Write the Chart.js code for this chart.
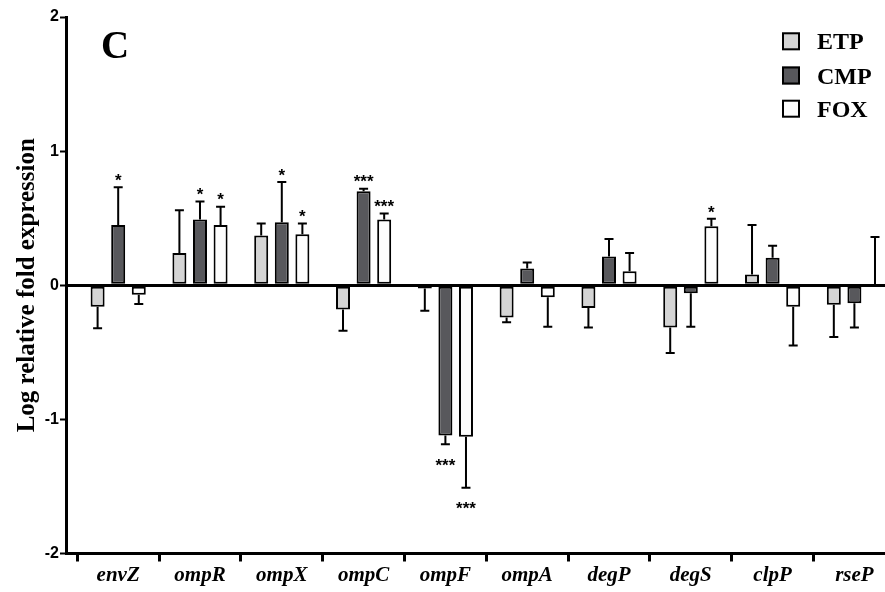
<!DOCTYPE html>
<html>
<head>
<meta charset="utf-8">
<script src="https://cdn.jsdelivr.net/npm/chart.js@4"></script>
<style>
html,body{margin:0;padding:0;background:#fff;overflow:hidden;}
canvas{display:block;}
</style>
</head>
<body>
<canvas id="c" width="885" height="592"></canvas>
<script>
const genes = ['envZ','ompR','ompX','ompC','ompF','ompA','degP','degS','clpP','rseP'];
const seriesNames = ['ETP','CMP','FOX'];
const etpValues = [-0.16, 0.24, 0.37, -0.18, -0.025, -0.24, -0.17, -0.315, 0.08, -0.145];
const cmpValues = [0.45, 0.49, 0.47, 0.70, -1.12, 0.125, 0.215, -0.06, 0.205, -0.135];
const foxValues = [-0.07, 0.45, 0.38, 0.49, -1.13, -0.09, 0.105, 0.44, -0.16, 0.0];
const etpErrors = [0.16, 0.32, 0.09, 0.16, 0.165, 0.035, 0.145, 0.19, 0.37, 0.24];
const cmpErrors = [0.28, 0.135, 0.30, 0.02, 0.065, 0.045, 0.13, 0.25, 0.09, 0.18];
const foxErrors = [0.07, 0.135, 0.08, 0.045, 0.38, 0.22, 0.135, 0.055, 0.29, 0.36];
const etpSig = ['','','','','','','','','',''];
const cmpSig = ['*','*','*','***','***','','','','',''];
const foxSig = ['','*','*','***','***','','','*','',''];
const yTicks = [-2, -1, 0, 1, 2];
const yTitle = 'Log relative fold expression';
const panelLabel = 'C';

const colors = ['#d4d4d4', '#58585c', '#fdfdfd'];
const allValues = [etpValues, cmpValues, foxValues];
const allErrors = [etpErrors, cmpErrors, foxErrors];
const allSig = [etpSig, cmpSig, foxSig];

const datasets = seriesNames.map((name, s) => ({
  label: name,
  data: allValues[s].map((v, i) => ({x: i, y: v})),
  backgroundColor: colors[s],
  borderColor: '#000',
  borderWidth: 2,
  borderSkipped: false,
  categoryPercentage: 1.51,
  barPercentage: 0.68
}));

const errorBarPlugin = {
  id: 'errorBars',
  afterDatasetsDraw(chart) {
    const ctx = chart.ctx;
    const yScale = chart.scales.y;
    ctx.save();
    ctx.strokeStyle = '#000';
    ctx.lineWidth = 2;
    ctx.fillStyle = '#000';
    allValues.forEach((vals, s) => {
      const meta = chart.getDatasetMeta(s);
      vals.forEach((v, i) => {
        const bar = meta.data[i];
        const dir = v >= 0 ? 1 : -1;
        const yEnd = yScale.getPixelForValue(v + dir * allErrors[s][i]);
        const yStart = yScale.getPixelForValue(v);
        ctx.beginPath();
        ctx.moveTo(bar.x, yStart);
        ctx.lineTo(bar.x, yEnd);
        ctx.moveTo(bar.x - 4.5, yEnd);
        ctx.lineTo(bar.x + 4.5, yEnd);
        ctx.stroke();
        const sig = allSig[s][i];
        if (sig) {
          ctx.font = 'bold 17px "Liberation Sans"';
          ctx.textAlign = 'center';
          ctx.textBaseline = 'alphabetic';
          const cy = dir > 0 ? yEnd - 11 : yEnd + 17;
          ctx.fillText(sig, bar.x, cy + 9.7);
        }
      });
    });
    ctx.restore();
  }
};

const legendPlugin = {
  id: 'customLegend',
  afterDraw(chart) {
    const ctx = chart.ctx;
    ctx.save();
    const rows = [41.3, 75.5, 108.7];
    chart.data.datasets.forEach((ds, s) => {
      const cy = rows[s];
      ctx.fillStyle = ds.backgroundColor;
      ctx.fillRect(782, cy - 9, 18, 18);
      ctx.strokeStyle = '#000';
      ctx.lineWidth = 2;
      ctx.strokeRect(783, cy - 8, 16, 16);
      ctx.fillStyle = '#000';
      ctx.font = 'bold 24px "Liberation Serif"';
      ctx.textAlign = 'left';
      ctx.textBaseline = 'alphabetic';
      ctx.fillText(ds.label, 817, cy + 8);
    });
    ctx.font = 'bold 39px "Liberation Serif"';
    ctx.fillText(panelLabel, 101, 58);
    ctx.restore();
  }
};

new Chart(document.getElementById('c'), {
  type: 'bar',
  data: { datasets },
  options: {
    responsive: false,
    animation: false,
    devicePixelRatio: 1,
    layout: { padding: { top: 17, right: 0, bottom: 0, left: 0 } },
    plugins: { legend: { display: false }, tooltip: { enabled: false } },
    scales: {
      x: {
        type: 'linear',
        offset: false,
        min: -0.638,
        max: 9.374,
        afterFit(scale) { scale.height = 38.5; },
        afterBuildTicks(scale) {
          const t = [];
          for (let i = 0; i < genes.length; i++) {
            t.push({value: i - 0.5});
            t.push({value: i});
          }
          scale.ticks = t;
        },
        border: { color: '#000', width: 3 },
        grid: {
          offset: false,
          drawOnChartArea: false,
          tickLength: 8,
          tickWidth: 3,
          tickColor: (c) => (c.tick && Number.isInteger(c.tick.value)) ? 'rgba(0,0,0,0)' : '#000'
        },
        ticks: {
          autoSkip: false,
          maxRotation: 0,
          padding: 1,
          color: '#000',
          font: { family: '"Liberation Serif"', size: 21, style: 'italic', weight: 'bold' },
          callback: (v) => Number.isInteger(v) ? genes[v] : ''
        }
      },
      y: {
        min: -2,
        max: 2,
        afterFit(scale) { scale.width = 66; },
        afterBuildTicks(scale) { scale.ticks = yTicks.map(v => ({value: v})); },
        border: { color: '#000', width: 3 },
        grid: {
          color: (c) => (c.tick && c.tick.value === 0) ? '#000' : 'rgba(0,0,0,0)',
          lineWidth: (c) => (c.tick && c.tick.value === 0) ? 3 : 1,
          tickColor: '#000',
          tickLength: 6,
          tickWidth: 2
        },
        ticks: {
          padding: 1,
          color: '#000',
          font: { family: '"Liberation Sans"', size: 16, weight: 'bold' }
        },
        title: {
          display: true,
          text: yTitle,
          color: '#000',
          font: { family: '"Liberation Serif"', size: 25, weight: 'bold' },
          padding: { top: 13, bottom: 0 }
        }
      }
    }
  },
  plugins: [errorBarPlugin, legendPlugin]
});
</script>
</body>
</html>
